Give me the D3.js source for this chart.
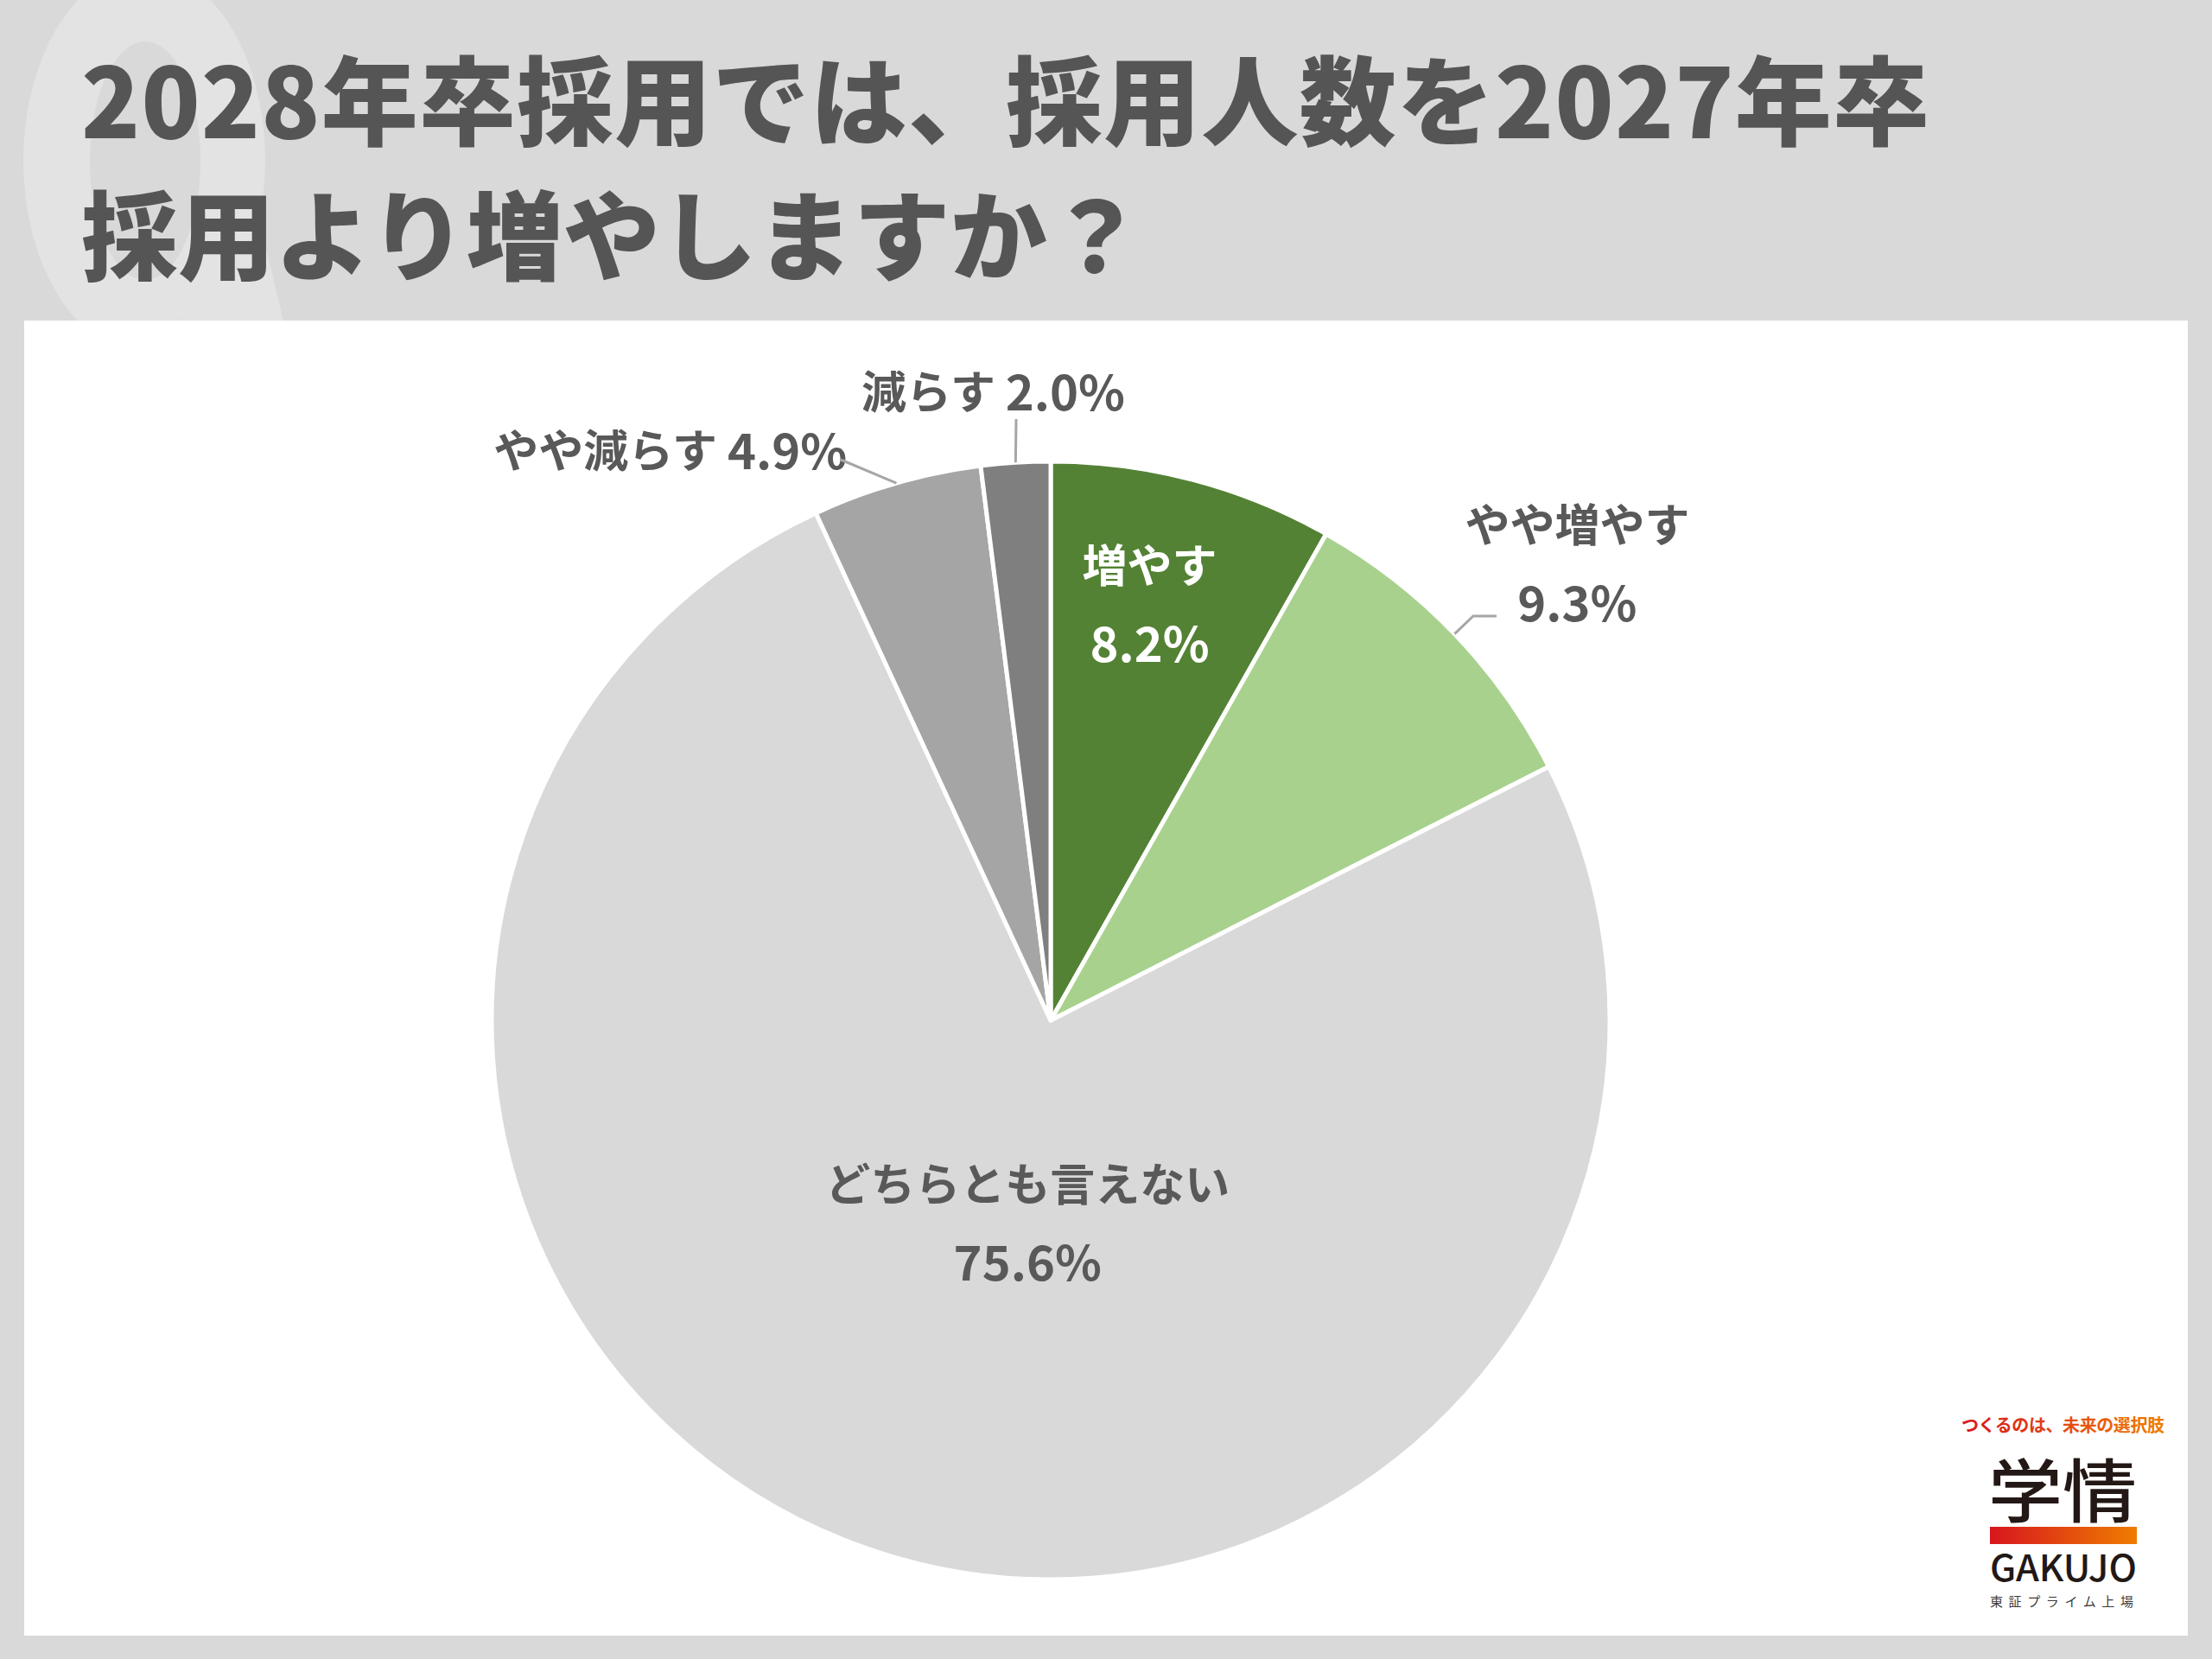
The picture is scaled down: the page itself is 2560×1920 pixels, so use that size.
<!DOCTYPE html>
<html>
<head>
<meta charset="utf-8">
<script src="https://cdn.jsdelivr.net/npm/d3@7"></script>
<style>
  html, body { margin: 0; padding: 0; background: #d9d9d9; }
  svg { display: block; }
  text { font-family: "Noto Sans CJK JP", "Noto Sans", sans-serif; }
</style>
</head>
<body>
<script>
// data
const categories = ['増やす', 'やや増やす', 'どちらとも言えない', 'やや減らす', '減らす'];
const shares = [8.2, 9.3, 75.6, 4.9, 2.0];
const sliceColors = ['#548235', '#a9d18e', '#d9d9d9', '#a5a5a5', '#7f7f7f'];
const titleLines = ['2028年卒採用では、採用人数を2027年卒', '採用より増やしますか？'];

const width = 2560;
const height = 1920;
const cx = 1216, cy = 1181, radius = 647;

const svg = d3.select('body').append('svg')
  .attr('width', width)
  .attr('height', height)
  .attr('viewBox', `0 0 ${width} ${height}`);

svg.append('rect').attr('width', width).attr('height', height).attr('fill', '#d9d9d9');

// faint "Q" watermark behind the title
const defs = svg.append('defs');
defs.append('clipPath').attr('id', 'topClip')
  .append('rect').attr('x', 0).attr('y', 0).attr('width', width).attr('height', 371);

const ellipsePath = (x, y, rx, ry) =>
  `M${x - rx},${y}a${rx},${ry} 0 1,0 ${rx * 2},0a${rx},${ry} 0 1,0 ${-rx * 2},0Z`;

const q = svg.append('g').attr('clip-path', 'url(#topClip)').attr('fill', '#e3e3e3');
q.append('path')
  .attr('fill-rule', 'evenodd')
  .attr('d', ellipsePath(167, 186, 140, 222) + ellipsePath(168, 186, 64, 138));
q.append('path').attr('d', 'M225,296 L302,262 L330,380 L205,380 Z');

// title
const title = svg.append('g').attr('fill', '#555555')
  .attr('font-size', 112).attr('font-weight', 900);
title.selectAll('text')
  .data(titleLines)
  .enter()
  .append('text')
  .attr('x', 94)
  .attr('y', (d, i) => 111 + i * 156)
  .attr('dominant-baseline', 'central')
  .attr('textLength', (d, i) => i === 0 ? 2139 : null)
  .attr('lengthAdjust', 'spacing')
  .text(d => d);

// white panel
svg.append('rect')
  .attr('x', 28).attr('y', 371)
  .attr('width', 2504).attr('height', 1522)
  .attr('fill', '#ffffff');

// pie
const pie = d3.pie().sort(null).value(d => d)(shares);
const arc = d3.arc().innerRadius(0).outerRadius(radius);

const g = svg.append('g').attr('transform', `translate(${cx},${cy})`);

g.selectAll('path.slice')
  .data(pie)
  .enter()
  .append('path')
  .attr('class', 'slice')
  .attr('d', arc)
  .attr('fill', (d, i) => sliceColors[i])
  .attr('stroke', '#ffffff')
  .attr('stroke-width', 5)
  .attr('stroke-linejoin', 'round');

// label placement: polar position (deg clockwise from top, radius factor)
const labelLayout = [
  {a: 13.3, r: 0.77, split: true, color: '#ffffff'},
  {a: 48.9, r: 1.25, split: true, color: '#595959'},
  {a: 186.6, r: 0.36, split: true, color: '#595959'},
  {a: 326.4, r: 1.23, split: false, color: '#595959'},
  {a: 354.8, r: 1.134, split: false, color: '#595959'}
];
// leader end points relative to the pie centre
const leaders = [
  null,
  [[489, -468], [516, -468]],
  null,
  [[-243, -649]],
  [[-40, -696]]
];

const polar = (deg, r) => {
  const t = deg * Math.PI / 180;
  return [Math.sin(t) * r, -Math.cos(t) * r];
};

pie.forEach((d, i) => {
  const lay = labelLayout[i];
  const [x, y] = polar(lay.a, lay.r * radius);
  const pct = d3.format('.1f')(shares[i]) + '%';
  const t = g.append('g').attr('fill', lay.color)
    .attr('font-size', 52).attr('font-weight', 700)
    .attr('text-anchor', 'middle');
  if (lay.split) {
    t.append('text').attr('x', x).attr('y', y - 45)
      .attr('dominant-baseline', 'central').text(categories[i]);
    t.append('text').attr('x', x).attr('y', y + 45)
      .attr('dominant-baseline', 'central').attr('font-size', 56).text(pct);
  } else {
    const line = t.append('text').attr('x', x).attr('y', y)
      .attr('dominant-baseline', 'central');
    line.append('tspan').text(categories[i] + ' ');
    line.append('tspan').attr('font-size', 56).text(pct);
  }
  if (leaders[i]) {
    const mid = (d.startAngle + d.endAngle) / 2;
    const start = [Math.sin(mid) * radius, -Math.cos(mid) * radius];
    g.append('path')
      .attr('d', d3.line()([start, ...leaders[i]]))
      .attr('fill', 'none')
      .attr('stroke', '#a6a6a6')
      .attr('stroke-width', 3);
  }
});

// logo
const logo = svg.append('g');
const grad = defs.append('linearGradient').attr('id', 'logoGrad')
  .attr('x1', '0%').attr('x2', '100%');
grad.append('stop').attr('offset', '0%').attr('stop-color', '#d7161e');
grad.append('stop').attr('offset', '100%').attr('stop-color', '#ef7d00');

logo.append('text')
  .attr('x', 2270).attr('y', 1648)
  .attr('dominant-baseline', 'central')
  .attr('font-size', 20).attr('font-weight', 700)
  .attr('fill', 'url(#logoGrad)')
  .attr('textLength', 235).attr('lengthAdjust', 'spacing')
  .text('つくるのは、未来の選択肢');

logo.append('text')
  .attr('x', 2301).attr('y', 1720)
  .attr('dominant-baseline', 'central')
  .attr('font-size', 80).attr('font-weight', 500)
  .attr('fill', '#231815')
  .attr('textLength', 172).attr('lengthAdjust', 'spacingAndGlyphs')
  .text('学情');

logo.append('rect')
  .attr('x', 2303).attr('y', 1767)
  .attr('width', 170).attr('height', 20)
  .attr('fill', 'url(#logoGrad)');

logo.append('text')
  .attr('x', 2303).attr('y', 1830)
  .attr('font-family', 'Lato, "Noto Sans", sans-serif')
  .attr('font-size', 42).attr('font-weight', 500)
  .attr('fill', '#231815')
  .attr('textLength', 170).attr('lengthAdjust', 'spacingAndGlyphs')
  .text('GAKUJO');

logo.append('text')
  .attr('x', 2303).attr('y', 1852)
  .attr('dominant-baseline', 'central')
  .attr('font-size', 15)
  .attr('fill', '#3e3a39')
  .attr('textLength', 166).attr('lengthAdjust', 'spacing')
  .text('東証プライム上場');
</script>
</body>
</html>
